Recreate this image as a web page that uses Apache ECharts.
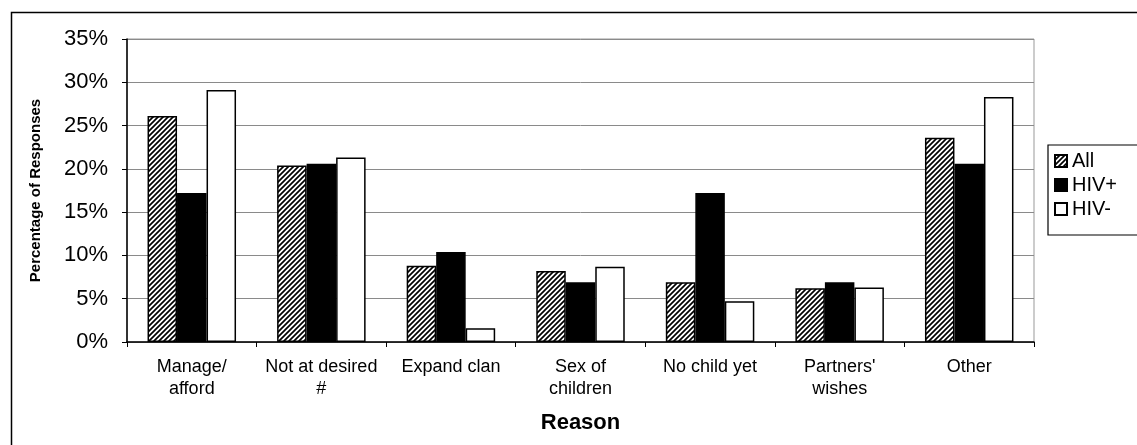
<!DOCTYPE html>
<html>
<head>
<meta charset="utf-8">
<title>Reasons for wanting no more children</title>
<script src="https://cdn.jsdelivr.net/npm/echarts@6/dist/echarts.min.js"></script>
<style>
  html, body { margin: 0; padding: 0; background: #fff; }
  #chart { width: 1137px; height: 445px; }
</style>
</head>
<body>
<div id="chart"></div>
<script>
// Reason categories (x axis)
const categories = [
  'Manage/\nafford',
  'Not at desired\n#',
  'Expand clan',
  'Sex of\nchildren',
  'No child yet',
  "Partners'\nwishes",
  'Other'
];

// Percentage of responses per reason
const seriesNames = ['All', 'HIV+', 'HIV-'];
const allValues    = [26.1, 20.4, 8.8, 8.2, 6.9, 6.2, 23.6];
const hivPosValues = [17.2, 20.6, 10.4, 6.9, 17.2, 6.9, 20.6];
const hivNegValues = [29.1, 21.3, 1.6, 8.7, 4.7, 6.3, 28.3];

// Y axis ticks
const yTicks = [0, 5, 10, 15, 20, 25, 30, 35];

const FONT = "'Liberation Sans', Arial, sans-serif";

// Diagonal hatch fill for the "All" series
function makeHatch() {
  const size = 5;
  const c = document.createElement('canvas');
  c.width = size; c.height = size;
  const g = c.getContext('2d');
  g.fillStyle = '#fff';
  g.fillRect(0, 0, size, size);
  g.strokeStyle = '#000';
  g.lineWidth = 1.7;
  g.beginPath();
  g.moveTo(-1, size + 1); g.lineTo(size + 1, -1);
  g.moveTo(-1, 1); g.lineTo(1, -1);
  g.moveTo(size - 1, size + 1); g.lineTo(size + 1, size - 1);
  g.stroke();
  return c;
}

const chart = echarts.init(document.getElementById('chart'), null, { renderer: 'canvas' });

const barBorder = { borderColor: '#000', borderWidth: 1.5 };

const option = {
  backgroundColor: '#fff',
  animation: false,
  textStyle: { fontFamily: FONT },
  graphic: [{
    type: 'rect',
    left: 9, top: 10,
    shape: { width: 1200, height: 600 },
    style: { fill: 'none', stroke: '#000', lineWidth: 1.5 },
    silent: true
  }],
  legend: {
    orient: 'vertical',
    left: 1048, top: 145,
    data: seriesNames,
    icon: 'rect',
    itemWidth: 12, itemHeight: 12,
    itemGap: 4,
    padding: [6, 40, 16, 6],
    borderColor: '#000', borderWidth: 1.2,
    backgroundColor: '#fff',
    textStyle: { fontFamily: FONT, fontSize: 20, color: '#000', lineHeight: 19 }
  },
  grid: {
    left: 127, right: 103, top: 39, bottom: 103,
    show: true, borderColor: '#999', borderWidth: 1,
    containLabel: false
  },
  xAxis: {
    type: 'category',
    data: categories,
    name: 'Reason',
    nameLocation: 'middle',
    nameGap: 70,
    nameTextStyle: { fontFamily: FONT, fontSize: 22, fontWeight: 'bold', color: '#000' },
    axisLine: { lineStyle: { color: '#000', width: 1.5 } },
    axisTick: { show: true, length: 5, lineStyle: { color: '#000' } },
    axisLabel: {
      interval: 0, margin: 14,
      fontFamily: FONT, fontSize: 18, lineHeight: 22, color: '#000'
    },
    splitLine: { show: false }
  },
  yAxis: {
    type: 'value',
    min: yTicks[0], max: yTicks[yTicks.length - 1], interval: 5,
    name: 'Percentage of Responses',
    nameLocation: 'middle',
    nameGap: 84,
    nameTextStyle: { fontFamily: FONT, fontSize: 15, fontWeight: 'bold', color: '#000' },
    axisLine: { show: true, lineStyle: { color: '#000', width: 1.5 } },
    axisTick: { show: true, length: 5, lineStyle: { color: '#000' } },
    axisLabel: {
      margin: 19, fontFamily: FONT, fontSize: 22, color: '#000',
      formatter: '{value}%'
    },
    splitLine: { show: true, lineStyle: { color: '#8a8a8a', width: 1 } }
  },
  series: [
    {
      name: seriesNames[0], type: 'bar', data: allValues,
      barGap: '0%', barCategoryGap: '31.7%',
      itemStyle: Object.assign({ color: { image: makeHatch(), repeat: 'repeat' } }, barBorder)
    },
    {
      name: seriesNames[1], type: 'bar', data: hivPosValues,
      itemStyle: Object.assign({ color: '#000' }, barBorder)
    },
    {
      name: seriesNames[2], type: 'bar', data: hivNegValues,
      itemStyle: Object.assign({ color: '#fff' }, barBorder)
    }
  ]
};

chart.setOption(option);
</script>
</body>
</html>
